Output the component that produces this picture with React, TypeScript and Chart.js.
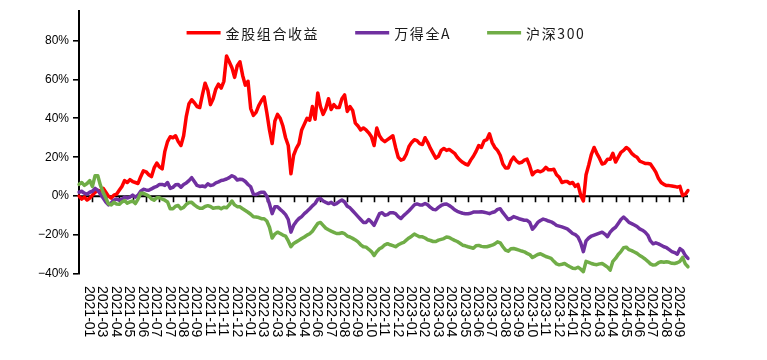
import React, { useEffect, useRef } from 'react';
import { Chart, registerables } from 'chart.js';

Chart.register(...registerables);

// Month tick labels, one every 20 trading days
const tickLabels = [
  '2021-01', '2021-03', '2021-04', '2021-05', '2021-06', '2021-07', '2021-07', '2021-08', '2021-09', '2021-11',
  '2021-11', '2021-12', '2022-01', '2022-03', '2022-03', '2022-04', '2022-04', '2022-06', '2022-07', '2022-08',
  '2022-09', '2022-10', '2022-11', '2022-12', '2023-01', '2023-02', '2023-03', '2023-04', '2023-05', '2023-06',
  '2023-07', '2023-08', '2023-09', '2023-10', '2023-11', '2023-12', '2024-01', '2024-02', '2024-03', '2024-04',
  '2024-05', '2024-06', '2024-07', '2024-08', '2024-09',
];
// one data point every 4 trading days -> 5 points per tick label
const POINTS_PER_TICK = 5;

const seriesNames = ['金股组合收益', '万得全A', '沪深300'];
const seriesColors = ['#FF0000', '#7030A0', '#70AD47'];

// cumulative return, %
const portfolio = [
  0, -1.5, -0.5, -2, -1, 0.5, 2, 3, 2.5, 4,
  2, 0, -1, 0.5, 1, 3, 5, 8, 7, 8.5,
  7.5, 7, 6.5, 10, 13, 12.5, 11, 10, 14.5, 17,
  15, 14, 23, 28, 30.5, 30, 31, 28, 26, 31,
  41, 47.5, 49.5, 48, 46, 45.5, 52, 58, 54.5, 47,
  50, 55, 57.5, 55.5, 59, 72, 69, 66, 61, 67,
  69, 62, 57, 59, 45, 41.5, 43, 46.5, 49, 51,
  43, 34, 27, 38.5, 42, 40, 36, 30, 26, 11.5,
  21, 24.5, 27, 34, 37, 40, 39, 46, 39.5, 53,
  46, 42, 45, 50, 44.5, 47, 45.5, 45.5, 50, 52,
  43.5, 46, 44, 37.5, 36, 34, 35, 34, 32.5, 30.5,
  26, 35, 31, 29, 28, 29, 30, 31, 25, 20,
  18.5, 19, 21.5, 25.5, 27.6, 29, 28.5, 27, 26.5, 30,
  27.5, 24.5, 22, 19.5, 20.5, 23.5, 24.5, 23.5, 24, 23,
  22, 20, 18.5, 17.4, 16.5, 16, 18.5, 20.5, 23, 26,
  25, 28.4, 29, 32, 27.5, 25, 23.5, 21, 16.5, 14.5,
  14.5, 18, 20, 18.2, 17, 17.4, 18.5, 19, 15.5, 11,
  12.5, 13, 12.5, 13.2, 14.8, 13.5, 13.5, 13.8, 11, 9.7,
  7, 7.5, 7.5, 6.5, 7, 5, 6, 0.5, -2.5, 11,
  16, 21.5, 25, 22, 19.5, 16.5, 17, 19, 19, 22,
  17.5, 20, 22.5, 23.5, 25, 24, 22, 20.8, 20, 18,
  17.4, 16.8, 16.8, 16.5, 14.5, 12.3, 9, 7, 6, 5.4,
  5.4, 5.2, 5, 4.6, 5, 0.3, 1, 2.9,
];

const windA = [
  2, 2.5, 1.5, 1, 2, 2.5, 4, 3, 1, -1,
  -3, -4.5, -3.5, -2, -1.5, -2, -1.5, -0.5, -1, -0.5,
  0.5, -0.5, 0.5, 2.5, 3.5, 3.2, 3, 3.7, 4.5, 5,
  6, 6, 5.5, 7, 4, 4.5, 5.8, 6, 4.6, 6,
  6.8, 8, 9.5, 7.5, 5.5, 5, 5.2, 4.8, 6.3, 5.5,
  5.8, 6.8, 7.3, 8, 8.3, 8.8, 9.5, 10.5, 9.8, 8.3,
  8.7, 8.5, 7.5, 6, 4.8, 1, 0.8, 1.5, 2, 2,
  0, -4, -9, -5.5, -5.5, -6.8, -8, -9.5, -12, -18.5,
  -15, -13, -11.5, -10.5, -9, -7.8, -6.5, -5, -3.8, -1.6,
  -1.2, -2.5, -3.2, -3.8, -3.2, -4.3, -3.8, -2.8, -2, -3,
  -5.2, -6, -7.5, -9, -10.5, -12, -13.5, -13.5, -12, -13.3,
  -15, -12, -9, -8.5, -9.8, -9.5, -8.5, -8.5, -9, -10.5,
  -11.5, -10, -8.8, -7.5, -6, -4.5, -4, -4.5, -4.5, -3.8,
  -4.5, -5.8, -6.8, -7, -5.8, -4.8, -4.2, -4, -4.8, -5.8,
  -7, -7.8, -8.3, -8.8, -9, -9, -8.8, -8.2, -8.2, -8.2,
  -8, -8.3, -8.6, -9, -8.4, -8, -6.8, -6.5, -8.5, -10.2,
  -12, -11.5, -10.5, -11, -11.6, -12, -12.4, -12.4, -13.5, -17,
  -15.5, -13.5, -12.5, -11.8, -12.2, -12.8, -13.2, -14, -15, -15.4,
  -15.8, -16.3, -16.8, -18, -19.2, -19.8, -21, -24, -28.5, -23,
  -21.5, -20.5, -20, -19.5, -19, -18.5, -19.5, -20.8, -18.5, -17,
  -16, -14, -12, -10.8, -12, -13.5, -14.1, -14.8, -15.6, -16.8,
  -17.5, -18.5, -20, -23, -24.5, -24, -24.5, -25.2, -26, -26.5,
  -27.5, -28.5, -29, -29.8, -27, -28, -30.5, -32,
];

const csi300 = [
  6, 7, 5.5, 6.5, 8, 5, 10.5, 10.5, 5.5, 2,
  -1, -4, -4.5, -3.2, -4, -4.2, -3, -2.3, -3.6, -3,
  -2.5, -3.8, -1.5, 1.5, 1.5, 0.8, 0, -1.4, -2.1, -0.8,
  -0.8, -1.5, -2.1, -3, -6.5, -6.5, -5.2, -4.8, -6.5, -5.8,
  -4.2, -3.3, -3.2, -4.5, -5.5, -6.2, -6.2, -5.3, -4.9, -5.3,
  -6.2, -6, -5.8, -6.5, -5.7, -6, -4.5, -2.5, -4.5, -5.4,
  -5.5, -6.5, -7.4, -8.3, -9.3, -10.6, -10.7, -11, -11.6, -11.6,
  -12.8, -16, -21.5, -19.5, -18.5, -19.2, -20, -20.5, -23, -26,
  -24.3, -23.5, -22.7, -21.8, -21, -20, -19.3, -18, -16, -14,
  -13.5, -15, -16.5, -17.3, -18, -18.6, -19.2, -19.2, -18.8, -19.3,
  -20.5, -21, -21.7, -22.5, -23.5, -25, -26, -26.2, -27.3, -28.5,
  -30.5, -28.5, -27, -26.3, -25, -24.4, -25, -25.4, -26, -25,
  -24.3, -23.8, -22.6, -21.5, -20.6, -19.5, -20.2, -20.9, -20.9, -21.5,
  -22.4, -22.8, -23.3, -23.3, -22.6, -22.2, -21.8, -21, -21.2, -22,
  -22.7, -23.3, -24.2, -25.2, -25.5, -26, -26.4, -26.8, -25.5, -25.3,
  -25.8, -26, -26, -25.6, -25.2, -24.5, -23.5, -24, -26, -27.7,
  -28.3, -27, -26.9, -27.3, -27.7, -28.2, -28.6, -29.4, -30, -31.5,
  -30.8, -30, -29.6, -30.3, -31, -31.5, -32, -33.5, -34.8, -35.3,
  -35, -34.6, -35.5, -36.3, -37, -37.2, -36.5, -37.5, -38.8, -33.5,
  -34, -34.6, -35, -35.2, -34.8, -34.6, -35.5, -36.5, -38, -33.5,
  -32, -30, -28.5, -26.5, -26.2, -27.5, -28, -28.7, -29.4, -30.5,
  -31.3, -32.3, -33.5, -34.8, -35.4, -35.2, -34.2, -33.7, -34, -33.7,
  -34, -34.5, -34.6, -34.2, -33.5, -31.5, -34.8, -36.3,
];

const yTicks = [-40, -20, 0, 20, 40, 60, 80];
const Y_MIN = -40;
const Y_MAX = 95;

const AXIS_FONT = '"Liberation Sans", Arial, sans-serif';
const LEGEND_FONT = '"Noto Sans CJK SC", "Liberation Sans", sans-serif';

const pct = (v: number) => `${v}%`.replace('-', '\u2212');

const zeroAxisPlugin = {
  id: 'zeroAxis',
  beforeDatasetsDraw(chart: any) {
    const { ctx, chartArea, scales } = chart;
    const x = scales.x;
    const y = scales.y;
    const y0 = y.getPixelForValue(0);
    ctx.save();
    ctx.strokeStyle = '#000';
    ctx.lineWidth = 2;
    ctx.beginPath();
    ctx.moveTo(chartArea.left, y0);
    ctx.lineTo(chartArea.right, y0);
    ctx.stroke();
    ctx.lineWidth = 1.6;
    ctx.beginPath();
    for (let k = 1; k <= tickLabels.length; k++) {
      const px = Math.round(x.getPixelForValue(k * POINTS_PER_TICK)) + 0.5;
      ctx.moveTo(px, y0);
      ctx.lineTo(px, y0 + 6);
    }
    ctx.stroke();
    ctx.restore();
  },
  afterDraw(chart: any) {
    const { ctx, chartArea, scales } = chart;
    const x = scales.x;
    ctx.save();
    ctx.fillStyle = '#000';
    ctx.font = `14px ${AXIS_FONT}`;
    ctx.textAlign = 'left';
    ctx.textBaseline = 'middle';
    tickLabels.forEach((lab, idx) => {
      const px = x.getPixelForValue((idx + 1) * POINTS_PER_TICK) - 3.5;
      ctx.save();
      ctx.translate(px, chartArea.bottom + 12);
      ctx.rotate(Math.PI / 2);
      ctx.fillText(lab, 0, 0);
      ctx.restore();
    });
    ctx.restore();
  },
};

const legendPlugin = {
  id: 'insideLegend',
  afterDraw(chart: any) {
    const { ctx, chartArea } = chart;
    const datasets = chart.data.datasets;
    const lineW = 34;
    const gap = 5;
    const itemGap = 36;
    ctx.save();
    ctx.font = `14px ${LEGEND_FONT}`;
    (ctx as any).letterSpacing = '1.6px';
    const widths = datasets.map((d: any) => ctx.measureText(d.label).width);
    const total = widths.reduce((s: number, w: number) => s + lineW + gap + w, 0) + itemGap * (datasets.length - 1);
    let cx = (chartArea.left + chartArea.right) / 2 + 2.5 - total / 2;
    const cy = chartArea.top + 21.5;
    datasets.forEach((d: any, i: number) => {
      ctx.strokeStyle = d.borderColor;
      ctx.lineWidth = 3.5;
      ctx.beginPath();
      ctx.moveTo(cx, cy);
      ctx.lineTo(cx + lineW, cy);
      ctx.stroke();
      ctx.fillStyle = '#1a1a1a';
      ctx.textAlign = 'left';
      ctx.textBaseline = 'middle';
      ctx.fillText(d.label, cx + lineW + gap, cy + 0.5);
      cx += lineW + gap + widths[i] + itemGap;
    });
    ctx.restore();
  },
};

export default function App() {
  const canvasRef = useRef<HTMLCanvasElement | null>(null);

  useEffect(() => {
    document.body.style.margin = '0';
    const canvas = canvasRef.current;
    if (!canvas) return;
    const labels = portfolio.map((_, i) =>
      i > 0 && i % POINTS_PER_TICK === 0 ? tickLabels[i / POINTS_PER_TICK - 1] ?? '' : ''
    );
    const series = [portfolio, windA, csi300];
    const chart = new Chart(canvas, {
      type: 'line',
      data: {
        labels,
        datasets: series.map((data, i) => ({
          label: seriesNames[i],
          data,
          borderColor: seriesColors[i],
          backgroundColor: seriesColors[i],
          borderWidth: 3.5,
          pointRadius: 0,
          tension: 0,
          borderJoinStyle: 'round' as const,
          borderCapStyle: 'round' as const,
          order: series.length - i,
        })),
      },
      options: {
        responsive: false,
        animation: false,
        devicePixelRatio: 1,
        layout: { padding: { top: 10, right: 79, left: 0, bottom: 0 } },
        plugins: {
          legend: { display: false },
          tooltip: { enabled: false },
        },
        scales: {
          x: {
            type: 'category',
            offset: false,
            grid: { display: false },
            border: { display: false },
            ticks: { display: false },
            afterFit: (scale: any) => {
              scale.height = 86;
            },
          },
          y: {
            type: 'linear',
            min: Y_MIN,
            max: Y_MAX,
            afterBuildTicks: (scale: any) => {
              scale.ticks = yTicks.map((v) => ({ value: v }));
            },
            ticks: {
              callback: (v: any) => pct(Number(v)),
              color: '#000',
              font: { family: AXIS_FONT, size: 12 },
              padding: 4,
            },
            grid: {
              drawOnChartArea: false,
              drawTicks: true,
              tickLength: 6,
              color: '#000',
              lineWidth: 1.6,
            },
            border: { display: true, color: '#000', width: 2 },
            afterFit: (scale: any) => {
              scale.width = 79;
            },
          },
        },
      },
      plugins: [zeroAxisPlugin, legendPlugin],
    });
    return () => chart.destroy();
  }, []);

  return (
    <div style={{ width: 767, height: 360 }}>
      <canvas ref={canvasRef} width={767} height={360} style={{ display: 'block' }} />
    </div>
  );
}
